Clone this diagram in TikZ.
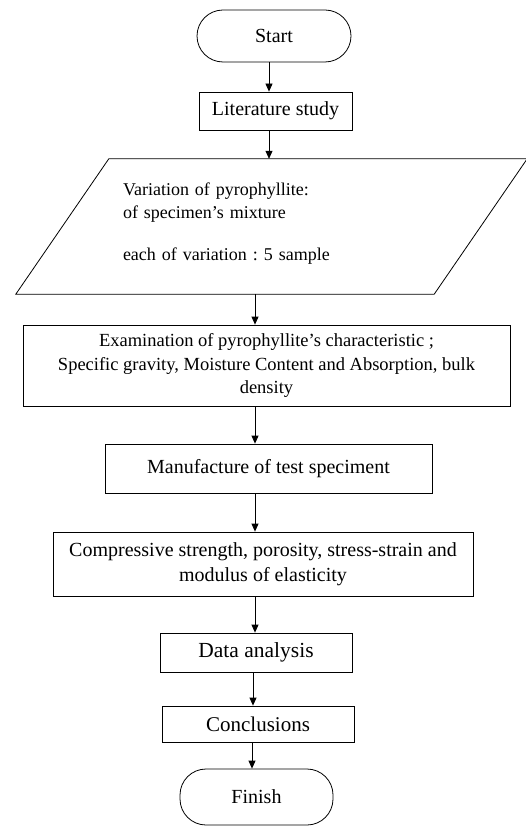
\documentclass[tikz,border=0pt]{standalone}
\usepackage{fontspec}
\setmainfont{Liberation Serif}
\usetikzlibrary{arrows.meta}
\begin{document}
\frenchspacing
\begin{tikzpicture}[x=1pt,y=-1pt,
  box/.style={draw,line width=0.8pt,inner sep=0pt,align=center,font=\fontsize{20}{25}\selectfont},
  term/.style={box,rounded corners=26pt},
  arr/.style={-{Triangle[length=8pt,width=7pt]},line width=0.8pt}]
  \useasboundingbox (0,0) rectangle (526,826);
  % Steps
  \node[term,minimum width=154pt,minimum height=52pt] (start) at (274,36) {Start};
  \node[box,minimum width=153pt,minimum height=38pt] (lit) at (275.5,111) {Literature study};
  \node[inner sep=0pt,minimum width=418pt,minimum height=135pt,text width=297pt,align=left,
    font=\fontsize{18}{23}\selectfont] (var) at (271.5,224) {Variation of pyrophyllite:\\of specimen’s mixture\\[19pt]each of variation : 5 sample};
  \node[box,minimum width=487pt,minimum height=81pt,font=\fontsize{18.5}{23.5}\selectfont] (exam) at (266.5,365.5)
    {Examination of pyrophyllite’s characteristic ;\\Specific gravity, Moisture Content and Absorption, bulk\\density};
  \node[box,minimum width=327pt,minimum height=49pt] (manu) at (268.5,468.5) {Manufacture of test speciment};
  \node[box,minimum width=420pt,minimum height=64pt] (comp) at (263,564)
    {Compressive strength, porosity, stress-strain and\\modulus of elasticity};
  \node[box,minimum width=192pt,minimum height=39pt,font=\fontsize{21.5}{25}\selectfont] (data) at (256,652.5) {Data analysis};
  \node[box,minimum width=192pt,minimum height=36pt,font=\fontsize{21}{25}\selectfont] (conc) at (258,724) {Conclusions};
  \node[term,minimum width=153pt,minimum height=56pt] (fin) at (256.5,797) {Finish};
  % Input parallelogram
  \draw[line width=0.8pt] ([xshift=46.5pt,yshift=-2.5pt]var.north west) -- ([xshift=46.5pt,yshift=-2.5pt]var.north east)
    -- ([xshift=-46.5pt,yshift=-2.5pt]var.south east) -- ([xshift=-46.5pt,yshift=-2.5pt]var.south west) -- cycle;
  \coordinate (vartop) at ([yshift=-2.5pt]var.north);
  \coordinate (varbot) at ([yshift=-2.5pt]var.south);
  % Arrows
  \draw[arr] ([xshift=-5pt]start.south) -- ([xshift=-5pt]start.south |- lit.north);
  \draw[arr] ([xshift=-6.5pt]lit.south) -- ([xshift=-6.5pt]lit.south |- vartop);
  \draw[arr] ([xshift=-16.5pt]varbot) -- ([xshift=-16.5pt]varbot |- exam.north);
  \draw[arr] ([xshift=-11.5pt]exam.south) -- ([xshift=-11.5pt]exam.south |- manu.north);
  \draw[arr] ([xshift=-13.5pt]manu.south) -- ([xshift=-13.5pt]manu.south |- comp.north);
  \draw[arr] ([xshift=-8pt]comp.south) -- ([xshift=-8pt]comp.south |- data.north);
  \draw[arr] ([xshift=-3pt]data.south) -- ([xshift=-3pt]data.south |- conc.north);
  \draw[arr] ([xshift=-6pt]conc.south) -- ([xshift=-6pt]conc.south |- fin.north);
\end{tikzpicture}
\end{document}
